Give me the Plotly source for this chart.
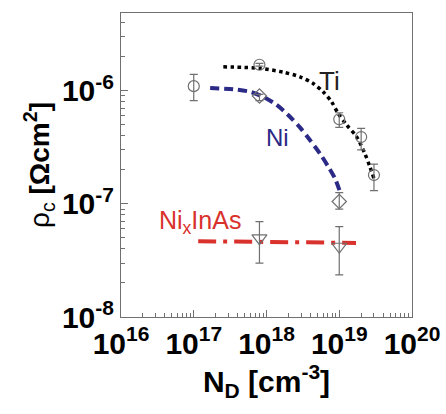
import plotly.graph_objects as go

# Measured data (N_D in cm^-3, rho_c in Ohm cm^2)
ti_N = [1e17, 8e17, 1e19, 2e19, 3e19]
ti_rho = [1.1e-6, 1.7e-6, 5.6e-7, 3.9e-7, 1.8e-7]
ti_err_plus = [0.30e-6, 0.05e-6, 0.8e-7, 0.76e-7, 0.45e-7]
ti_err_minus = [0.28e-6, 0.05e-6, 0.85e-7, 0.9e-7, 0.49e-7]

ni_N = [8e17, 1e19]
ni_rho = [0.9e-6, 1.05e-7]
ni_err_plus = [0.03e-6, 0.21e-7]
ni_err_minus = [0.08e-6, 0.15e-7]

nix_N = [8e17, 1e19]
nix_rho = [4.98e-8, 4.2e-8]
nix_err_plus = [2.0e-8, 2.1e-8]
nix_err_minus = [1.98e-8, 1.84e-8]

# Fitted curves
ti_fit_N = [2.55e17, 8.15e17, 1.7e18, 2.88e18, 4.38e18, 6.0e18, 7.84e18, 9.66e18,
            1.26e19, 1.73e19, 2.24e19, 2.63e19, 2.99e19]
ti_fit_rho = [1.63e-6, 1.58e-6, 1.46e-6, 1.33e-6, 1.16e-6, 9.8e-7, 8.0e-7, 6.3e-7,
              5.0e-7, 3.93e-7, 2.8e-7, 2.14e-7, 1.69e-7]

ni_fit_N = [1.68e17, 3.5e17, 5.94e17, 9.0e17, 1.38e18, 2.1e18, 2.88e18, 3.95e18,
            5.4e18, 7.05e18, 8.7e18, 1.02e19]
ni_fit_rho = [1.06e-6, 1.03e-6, 9.8e-7, 8.85e-7, 7.5e-7, 5.9e-7, 4.75e-7, 3.67e-7,
              2.8e-7, 2.14e-7, 1.69e-7, 1.29e-7]

nix_fit_N = [1.15e17, 1.7e19]
nix_fit_rho = [4.68e-8, 4.52e-8]

x_tickvals = [1e16, 1e17, 1e18, 1e19, 1e20]
x_ticktext = ["<b>10<sup>16</sup></b>", "<b>10<sup>17</sup></b>", "<b>10<sup>18</sup></b>",
              "<b>10<sup>19</sup></b>", "<b>10<sup>20</sup></b>"]
y_tickvals = [1e-8, 1e-7, 1e-6]
y_ticktext = ["<b>10<sup>-8</sup></b>", "<b>10<sup>-7</sup></b>", "<b>10<sup>-6</sup></b>"]

gray = "#707070"
navy = "#2b2a86"
red = "#d9312c"

fig = go.Figure()

fig.add_trace(go.Scatter(x=ti_fit_N, y=ti_fit_rho, mode="lines",
                         line=dict(color="black", width=3.5, dash="dot", shape="spline", smoothing=0.8),
                         hoverinfo="skip"))
fig.add_trace(go.Scatter(x=ni_fit_N, y=ni_fit_rho, mode="lines",
                         line=dict(color=navy, width=4, dash="9px,5px", shape="spline", smoothing=0.8),
                         hoverinfo="skip"))
fig.add_trace(go.Scatter(x=nix_fit_N, y=nix_fit_rho, mode="lines",
                         line=dict(color=red, width=4, dash="18px,7px,4px,7px"),
                         hoverinfo="skip"))

def err(plus, minus):
    return dict(type="data", array=plus, arrayminus=minus, symmetric=False,
                color=gray, thickness=1.2, width=4)

fig.add_trace(go.Scatter(x=ti_N, y=ti_rho, mode="markers",
                         marker=dict(symbol="circle-open", size=11, color=gray, line=dict(width=1.2)),
                         error_y=err(ti_err_plus, ti_err_minus)))
fig.add_trace(go.Scatter(x=ni_N, y=ni_rho, mode="markers",
                         marker=dict(symbol="diamond-open", size=11, color=gray, line=dict(width=1.2)),
                         error_y=err(ni_err_plus, ni_err_minus)))
fig.add_trace(go.Scatter(x=nix_N, y=nix_rho, mode="markers",
                         marker=dict(symbol="triangle-down-open", size=13, color=gray, line=dict(width=1.2)),
                         error_y=err(nix_err_plus, nix_err_minus)))

fig.add_annotation(x=18.87, y=-5.91, xref="x", yref="y", text="Ti", showarrow=False,
                   font=dict(size=26, color="#222222", family="Liberation Sans"))
fig.add_annotation(x=18.15, y=-6.41, xref="x", yref="y", text="Ni", showarrow=False,
                   font=dict(size=24, color=navy, family="Liberation Sans"))
fig.add_annotation(x=17.08, y=-7.16, xref="x", yref="y", text="Ni<sub>x</sub>InAs", showarrow=False,
                   font=dict(size=25, color=red, family="Liberation Sans"))

fig.update_layout(
    width=446, height=414,
    margin=dict(l=121, r=34, t=13, b=97),
    paper_bgcolor="white", plot_bgcolor="white",
    showlegend=False,
    font=dict(family="Liberation Sans", color="black"),
)
fig.update_xaxes(type="log", range=[16, 20], tickvals=x_tickvals, ticktext=x_ticktext,
                 tickfont=dict(size=30, family="Liberation Sans"), automargin=False,
                 ticks="inside", ticklen=7, tickcolor=gray, showline=True, linecolor=gray,
                 mirror=True, showgrid=False, zeroline=False,
                 minor=dict(ticks="inside", ticklen=4, tickcolor=gray, dtick="D1", showgrid=False),
                 title=dict(text="<b>N<sub>D</sub> [cm<sup>-3</sup>]</b>", font=dict(size=30), standoff=6))
fig.update_yaxes(type="log", range=[-8, -5.312], tickvals=y_tickvals, ticktext=y_ticktext,
                 tickfont=dict(size=30, family="Liberation Sans"), automargin=False,
                 ticks="inside", ticklen=7, tickcolor=gray, showline=True, linecolor=gray,
                 mirror=True, showgrid=False, zeroline=False,
                 minor=dict(ticks="inside", ticklen=4, tickcolor=gray, dtick="D1", showgrid=False),
                 title=dict(text="ρ<sub>c</sub> <b>[Ωcm<sup>2</sup>]</b>", font=dict(size=28), standoff=4))

fig.write_html("out.html", config={"displayModeBar": False},
               post_script="document.body.style.margin='0';document.body.style.overflow='hidden';")
